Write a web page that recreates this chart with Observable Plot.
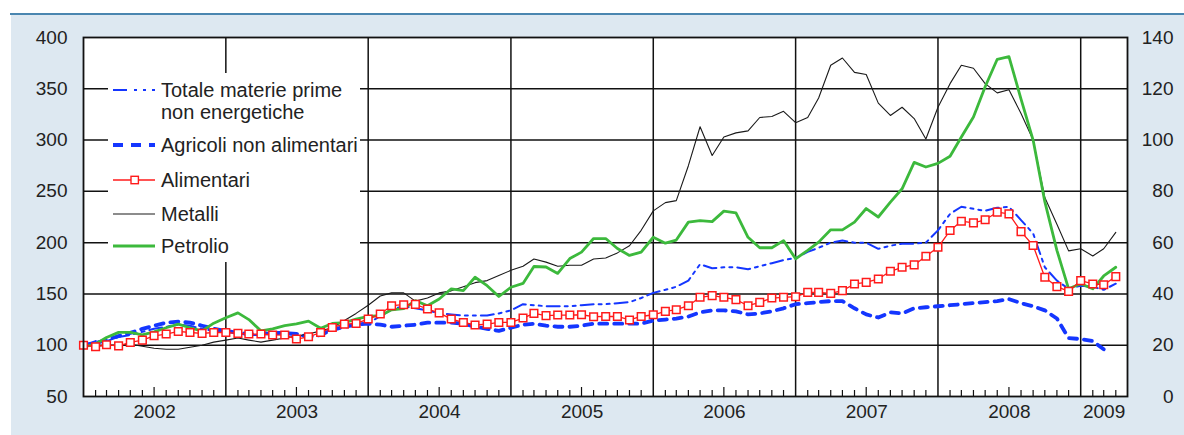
<!DOCTYPE html>
<html>
<head>
<meta charset="utf-8">
<script src="https://cdn.jsdelivr.net/npm/d3@7"></script>
<script src="https://cdn.jsdelivr.net/npm/@observablehq/plot@0.6"></script>
<style>
  body { margin: 0; background: white; }
  #wrap { position: relative; width: 1184px; height: 435px; font-family: "Liberation Sans", Arial, Helvetica, sans-serif; }
  #legend { position: absolute; left: 108px; top: 73px; }
</style>
</head>
<body>
<div id="wrap"></div>
<script>
// ---- Data (monthly, Jan 2002 – Apr 2009; indices 2002-01 = 100) ----
const startMonth = "2002-01-01";
const endDomain = "2009-05-01";

const totale = [
  100,104,104,108,110,113,116,118,120,119,116,114,
  113,112,110,110,111,111,110,108,111,116,119,120,
  122,128,135,138,136,134,131,130,129,129,129,131,
  134,140,139,138,138,138,139,140,140,141,142,146,
  151,154,157,163,179,175,176,176,174,177,180,183,
  185,191,195,200,202,200,200,194,197,199,199,200,
  212,228,235,233,231,234,235,222,209,176,163,155,
  158,157,154,160
];
const agricoli = [
  100,102,105,109,112,116,119,122,123,122,119,116,
  114,112,111,111,112,112,111,108,110,115,118,120,
  121,120,118,119,120,122,122,122,121,118,116,114,
  117,120,121,119,118,118,119,121,121,121,121,121,
  124,125,126,128,132,134,134,133,130,131,133,136,
  140,141,142,143,143,136,130,127,132,131,136,137,
  138,139,140,141,142,143,145,141,138,134,126,107,
  106,104,96,null
];
const alimentari = [
  100,98.5,100.4,99.4,102.7,105,109.2,110.9,113.4,112.4,111.5,112.4,
  112.4,111.5,110.9,110.9,110,109.9,106,108.2,112.4,117.3,120.6,121.2,
  125.5,130.4,138.5,139.5,139.8,135.3,131.5,125.5,122.2,119.7,120.6,122.2,
  122.2,126.5,131,128.8,129.4,129.4,129.7,127.8,128,128,124.6,128,
  129.7,133,134.6,138.5,146.7,148.3,146.7,144.4,138.5,141.8,146,146.7,
  147.3,151.5,151.5,150.5,153.2,159.7,161.3,164.6,172.1,176,178.3,186.7,
  195.5,211.8,220.9,219.3,222.3,229.7,228.1,210.8,197.2,166.2,157.1,152.5,
  163,159.7,159,166.9
];
const metalli = [
  100,99,100,100,101,99,97,96,96,98,100,103,
  105,107,105,103,105,107,109,111,114,117,124,131,
  139,148,151,151,143,146,151,153,157,161,163,168,
  173,177,184,181,177,178,178,184,185,190,197,212,
  231,239,241,275,313,285,303,307,309,322,323,328,
  317,322,341,373,380,366,364,336,324,332,321,301,
  332,355,373,370,355,346,349,326,300,244,218,192,
  194,187,194,210
];
// Petrolio: dollars per barrel, right-hand scale
const petrolio = [
  19.3,20.5,23,25,25,24,25.2,26.8,28.2,26.8,25.6,28.6,
  30.7,32.6,30,25.6,26.4,27.6,28.3,29.4,26.6,28.5,28.8,30.2,
  31.2,31.5,33.8,34.3,37.4,35.4,38,42,41.3,46.5,43.2,39,
  42.6,44.1,50.7,50.5,48,53.8,56.3,61.6,61.6,57.7,55,56.3,
  62.1,59.8,61,68,68.6,68.2,72.3,71.6,62.1,58,58,60.8,
  53.7,57,60.2,65,65,68,73.3,70,75.8,81,91.3,89.5,
  90.9,93.7,101.2,109,120.8,131.5,132.5,116,100,76,57,42,
  44,42,47,50.4
];

const leftTicks = [50,100,150,200,250,300,350,400];
const rightTicks = [0,20,40,60,80,100,120,140];
const years = [2002,2003,2004,2005,2006,2007,2008,2009];

const seriesNames = ["Totale materie prime\nnon energetiche","Agricoli non alimentari","Alimentari","Metalli","Petrolio"];

// ---- Styling ----
const BLUE = "#1436ff", RED = "#ff1a1a", GREEN = "#3cb93c", BLACK = "#1a1a1a";
const FONT = '"Liberation Sans", Arial, Helvetica, sans-serif';

// right scale (0..140) mapped on the left scale (50..400)
const lo = leftTicks[0], hi = leftTicks[leftTicks.length-1];
const rlo = rightTicks[0], rhi = rightTicks[rightTicks.length-1];
const toLeft = p => p == null ? null : lo + (p - rlo) * (hi - lo) / (rhi - rlo);
const toRight = v => Math.round(rlo + (v - lo) * (rhi - rlo) / (hi - lo));

const x0 = new Date(startMonth), x1 = new Date(endDomain);
const months = d3.utcMonth.range(x0, x1);
const rows = months.map((date, i) => ({
  date, totale: totale[i], agricoli: agricoli[i], alimentari: alimentari[i],
  metalli: metalli[i], petrolio: toLeft(petrolio[i])
}));

const W = 1184, H = 435, mL = 83, mR = 57, mT = 37, mB = 39;
const pxPerUnit = (H - mT - mB) / (hi - lo);
const tickMonths = months.filter(d => d.getUTCMonth() !== 0).map(d => ({date: d, len: d.getUTCMonth() === 6 ? 9 : 6}));
const yearGrid = years.slice(1).map(y => new Date(Date.UTC(y, 0, 1)));
const yearLabels = years.map(y => {
  const a = Math.max(+x0, Date.UTC(y, 0, 1)), b = Math.min(+x1, Date.UTC(y + 1, 0, 1));
  return {mid: new Date((a + b) / 2), label: String(y)};
});

const plot = Plot.plot({
  width: W, height: H,
  marginLeft: mL, marginRight: mR, marginTop: mT, marginBottom: mB,
  style: {fontFamily: FONT, fontSize: "19px", color: "#222", background: "transparent", overflow: "visible"},
  x: {type: "utc", domain: [x0, x1]},
  y: {domain: [lo, hi]},
  marks: [
    Plot.frame({fill: "white"}),
    Plot.gridY(leftTicks.slice(1, -1), {stroke: "#111", strokeOpacity: 1, strokeWidth: 1.5}),
    Plot.gridX(yearGrid, {stroke: "#111", strokeOpacity: 1, strokeWidth: 1.5}),
    Plot.ruleX(tickMonths, {x: "date", y1: lo, y2: d => lo + d.len / pxPerUnit, stroke: "#111", strokeWidth: 1.2}),
    Plot.axisY(leftTicks, {anchor: "left", tickSize: 0, tickPadding: 16}),
    Plot.axisY(rightTicks.map(toLeft), {anchor: "right", tickSize: 0, tickPadding: 46, textAnchor: "end", tickFormat: toRight}),
    Plot.axisX({ticks: [], label: null}),
    Plot.text(yearLabels, {x: "mid", text: "label", frameAnchor: "bottom", dy: 21, fontSize: 19, fill: "#222"}),
    Plot.line(rows, {x: "date", y: "agricoli", stroke: BLUE, strokeWidth: 3.8, strokeDasharray: "8,7"}),
    Plot.line(rows, {x: "date", y: "totale", stroke: BLUE, strokeWidth: 2, strokeDasharray: "13,5,3,5,3,5"}),
    Plot.line(rows, {x: "date", y: "metalli", stroke: BLACK, strokeWidth: 1.1}),
    Plot.line(rows, {x: "date", y: "petrolio", stroke: GREEN, strokeWidth: 2.8}),
    Plot.line(rows, {x: "date", y: "alimentari", stroke: RED, strokeWidth: 1.3}),
    Plot.dot(rows, {x: "date", y: "alimentari", symbol: "square", r: 4.3, fill: "white", stroke: RED, strokeWidth: 1.5}),
    Plot.frame({stroke: "#111", strokeWidth: 1.8})
  ]
});
plot.style.background =
  "linear-gradient(#4a86b0,#4a86b0) 10px 13px / 1174px 2px no-repeat," +
  "linear-gradient(#dde8f1,#dde8f1) 11px 15px / 1173px 420px no-repeat, white";

const wrap = document.getElementById("wrap");
wrap.appendChild(plot);

// ---- Legend (inside the plot, white box) ----
const lg = d3.create("svg").attr("id", "legend").attr("width", 252).attr("height", 189)
  .style("font-family", FONT).style("font-size", "20px");
lg.append("rect").attr("width", 252).attr("height", 189).attr("fill", "white");
const items = [
  {name: seriesNames[0], cy: 17, stroke: BLUE, w: 1.8, dash: "14,7,3,6,3,6"},
  {name: seriesNames[1], cy: 72, stroke: BLUE, w: 4, dash: "10,8"},
  {name: seriesNames[2], cy: 107, stroke: RED, w: 1.3, dash: null, square: true},
  {name: seriesNames[3], cy: 141, stroke: BLACK, w: 1.2, dash: null},
  {name: seriesNames[4], cy: 173, stroke: GREEN, w: 3, dash: null}
];
for (const it of items) {
  lg.append("line").attr("x1", 5).attr("x2", 47).attr("y1", it.cy).attr("y2", it.cy)
    .attr("stroke", it.stroke).attr("stroke-width", it.w).attr("stroke-dasharray", it.dash);
  if (it.square) lg.append("rect").attr("x", 23).attr("y", it.cy - 3.7).attr("width", 7.4).attr("height", 7.4)
    .attr("fill", "white").attr("stroke", it.stroke).attr("stroke-width", 1.4);
  const t = lg.append("text").attr("x", 53).attr("y", it.cy).attr("fill", "#222");
  it.name.split("\n").forEach((ln, k) => t.append("tspan").attr("x", 53).attr("dy", k === 0 ? "0.36em" : "1.1em").text(ln));
}
wrap.appendChild(lg.node());
</script>
</body>
</html>
